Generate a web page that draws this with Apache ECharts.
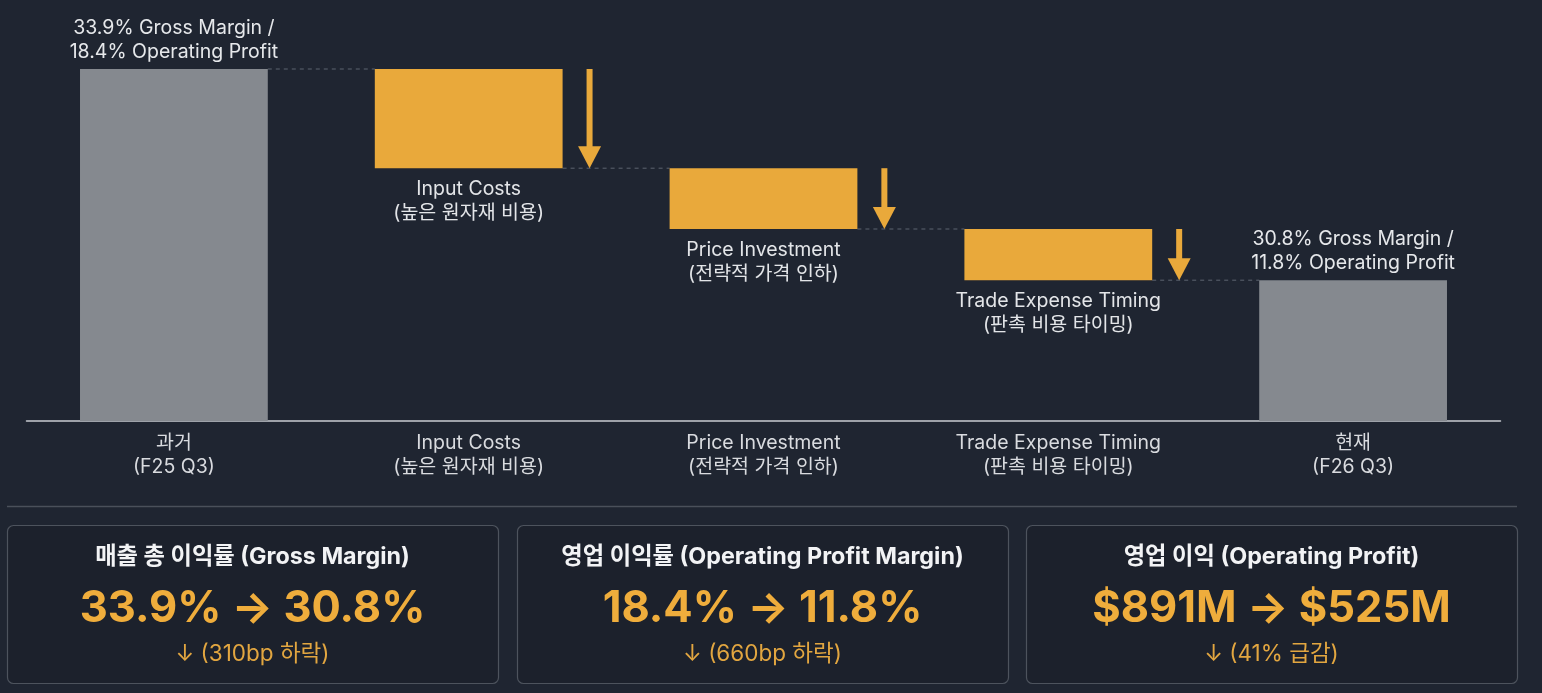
<!DOCTYPE html>
<html>
<head>
<meta charset="utf-8">
<script src="https://cdn.jsdelivr.net/npm/echarts@6/dist/echarts.min.js"></script>
<style>
html,body{margin:0;padding:0;background:#1f2531;}
#chart{width:1542px;height:693px;}
</style>
</head>
<body>
<div id="chart"></div>
<script>
// ---- data ----
const categories = ['과거\n(F25 Q3)', 'Input Costs\n(높은 원자재 비용)', 'Price Investment\n(전략적 가격 인하)', 'Trade Expense Timing\n(판촉 비용 타이밍)', '현재\n(F26 Q3)'];
const startValue = 18.4;             // operating profit margin, F25 Q3 (%)
const changes = [-3.1, -1.9, -1.6];   // percentage-point drivers
const endValue = 11.8;               // operating profit margin, F26 Q3 (%)
const totalLabels = ['33.9% Gross Margin /\n18.4% Operating Profit', '30.8% Gross Margin /\n11.8% Operating Profit'];
const cardTitles = ['매출 총 이익률 (Gross Margin)', '영업 이익률 (Operating Profit Margin)', '영업 이익 (Operating Profit)'];
const cardValues = ['33.9% → 30.8%', '18.4% → 11.8%', '$891M → $525M'];
const cardNotes = ['↓ (310bp 하락)', '↓ (660bp 하락)', '↓ (41% 급감)'];

// ---- build waterfall rows: [index, low, high, kind, level] ----
const rows = [];
rows.push([0, null, startValue, 0, startValue]);
let cur = startValue;
changes.forEach((c, k) => {
  const next = +(cur + c).toFixed(2);
  rows.push([k + 1, next, cur, 1, next]);
  cur = next;
});
rows.push([changes.length + 1, null, endValue, 0, endValue]);

const FONT = "Inter, 'Noto Sans CJK KR', sans-serif";
const ORANGE = '#e9a93b';
const GRAY = '#85898f';
const LABEL_SIZE = 19.5;

const chart = echarts.init(document.getElementById('chart'));

function renderItem(params, api) {
  const i = api.value(0);
  const kind = api.value(3);
  const level = api.value(4);
  const cs = params.coordSys;
  const band = api.size([1, 0])[0];
  const w = band * 0.637;
  const cx = api.coord([i, 0])[0];
  const yTop = api.coord([i, api.value(2)])[1];
  const yBot = kind === 0 ? cs.y + cs.height : api.coord([i, api.value(1)])[1];
  const yLevel = api.coord([i, level])[1];
  const children = [];
  const last = i === categories.length - 1;
  if (!last) {
    children.push({
      type: 'line',
      shape: { x1: cx + w / 2, y1: yLevel, x2: cx + band - w / 2, y2: yLevel },
      style: { stroke: '#5d6470', lineWidth: 1, lineDash: [4, 4] }
    });
  }
  children.push({
    type: 'rect',
    shape: { x: cx - w / 2, y: yTop, width: w, height: yBot - yTop },
    style: { fill: kind === 0 ? GRAY : ORANGE }
  });
  if (kind === 0) {
    const t = totalLabels[i === 0 ? 0 : 1];
    children.push({
      type: 'text',
      style: {
        text: t, x: cx, y: yTop - 5, align: 'center', verticalAlign: 'bottom',
        fill: '#e6e8eb', font: LABEL_SIZE + 'px ' + FONT, lineHeight: 24
      }
    });
  } else {
    const ax = cx + band * 0.41;
    const headH = 22, headW = 23, shaftW = 6;
    children.push({
      type: 'rect',
      shape: { x: ax - shaftW / 2, y: yTop, width: shaftW, height: yBot - yTop - headH + 1 },
      style: { fill: ORANGE }
    });
    children.push({
      type: 'polygon',
      shape: { points: [[ax - headW / 2, yBot - headH], [ax + headW / 2, yBot - headH], [ax, yBot]] },
      style: { fill: ORANGE }
    });
    children.push({
      type: 'text',
      style: {
        text: categories[i], x: cx, y: yBot + 9, align: 'center', verticalAlign: 'top',
        fill: '#e3e5e8', font: LABEL_SIZE + 'px ' + FONT, lineHeight: 24
      }
    });
  }
  return { type: 'group', children: children };
}

// ---- cards ----
const graphics = [
  { type: 'line', shape: { x1: 7, y1: 506.5, x2: 1517, y2: 506.5 }, style: { stroke: '#4a505a', lineWidth: 1.5 } }
];
const cardX = [7, 517, 1026];
const cardW = 491;
cardTitles.forEach((t, k) => {
  const x = cardX[k];
  const c = x + cardW / 2;
  graphics.push({ type: 'rect', shape: { x: x + 0.5, y: 525.5, width: cardW, height: 158, r: 6 },
    style: { fill: '#1c212c', stroke: '#4d535d', lineWidth: 1.2 } });
  graphics.push({ type: 'text', style: { text: t, x: c, y: 557, align: 'center', verticalAlign: 'middle',
    fill: '#f2f3f5', font: 'bold 23.3px ' + FONT } });
  graphics.push({ type: 'text', style: { text: cardValues[k], x: c, y: 609, align: 'center', verticalAlign: 'middle',
    fill: '#efad3c', font: 'bold 43.5px ' + FONT } });
  graphics.push({ type: 'text', style: { text: cardNotes[k], x: c, y: 654, align: 'center', verticalAlign: 'middle',
    fill: '#e2a640', font: '22.5px ' + FONT } });
});

chart.setOption({
  backgroundColor: '#1f2531',
  animation: false,
  grid: { left: 26.5, right: 41.5, top: 37, bottom: 272, containLabel: false },
  xAxis: {
    type: 'category',
    data: categories,
    axisLine: { lineStyle: { color: '#c9ccd1', width: 1.5 } },
    axisTick: { show: false },
    axisLabel: { color: '#d9dbdf', fontSize: LABEL_SIZE, fontFamily: FONT, lineHeight: 24, margin: 10 }
  },
  yAxis: { type: 'value', min: 7.4, max: 19.4, show: false, splitLine: { show: false } },
  series: [{
    type: 'custom',
    renderItem: renderItem,
    data: rows,
    encode: { x: 0, y: [1, 2] },
    clip: false
  }],
  graphic: graphics
});
</script>
</body>
</html>
